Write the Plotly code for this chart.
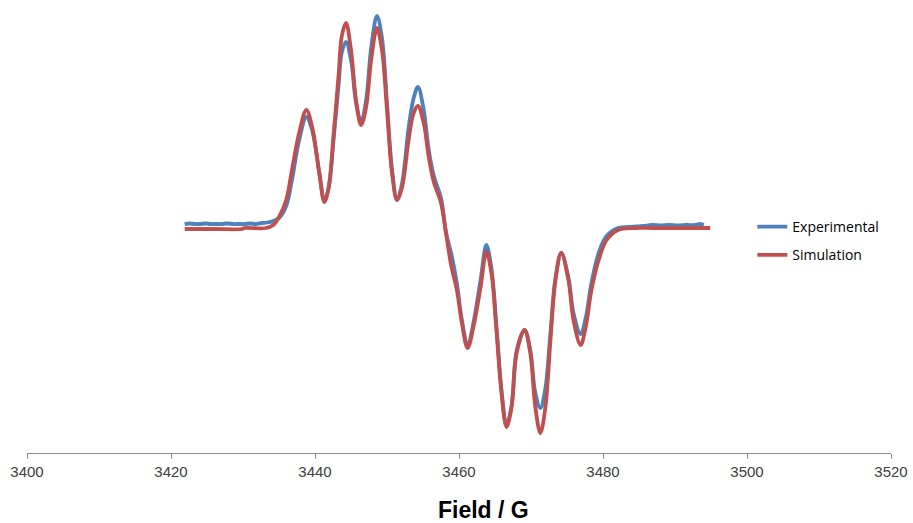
import plotly.graph_objects as go

# Experimental spectrum (Field in G, intensity in arbitrary units)
exp_field = [3421.9, 3422.6, 3423.3, 3424.0, 3424.8, 3425.5, 3426.3, 3427.0, 3427.8, 3428.6,
             3429.4, 3430.2, 3431.0, 3431.8, 3432.6, 3433.4, 3434.2, 3435.0, 3436.0, 3436.8,
             3437.8, 3438.8, 3439.6, 3440.6, 3441.3, 3441.9, 3442.6, 3443.3, 3443.7, 3444.3,
             3445.0, 3445.7, 3446.4, 3447.1, 3447.8, 3448.6, 3449.3, 3450.0, 3450.7, 3451.4,
             3452.1, 3453.0, 3453.7, 3454.3, 3455.1, 3455.8, 3456.5, 3457.5, 3458.2, 3458.9,
             3459.7, 3460.4, 3461.2, 3462.0, 3463.0, 3463.8, 3464.5, 3465.2, 3465.9, 3466.6,
             3467.3, 3468.0, 3469.1, 3469.9, 3470.6, 3471.3, 3472.0, 3472.7, 3473.4, 3474.2,
             3475.2, 3475.9, 3476.9, 3477.6, 3478.4, 3479.4, 3480.5, 3482.1, 3483.5, 3484.5,
             3485.6, 3486.8, 3488.0, 3489.2, 3490.4, 3491.6, 3492.8, 3493.4, 3494.0]
exp_signal = [4, 4.5, 4, 4, 4.5, 4, 4, 4, 4.5, 4,
              4, 4, 4.5, 4, 5, 5.5, 7, 10, 22, 48,
              88, 111, 98, 55, 27, 40, 90, 145, 175, 186,
              168, 125, 106, 128, 180, 212, 190, 125, 58, 28,
              45, 100, 130, 141, 118, 78, 52, 30, -5, -25,
              -55, -92, -118, -95, -52, -17, -40, -98, -162, -197,
              -178, -123, -102, -122, -165, -180, -160, -105, -50, -25,
              -50, -85, -106, -90, -55, -25, -8, 0, 1, 1.5,
              2, 3, 2.5, 3, 2.5, 3, 3, 4, 3]

# Simulated spectrum
sim_field = [3421.9, 3426.0, 3429.8, 3430.2, 3433.2, 3434.2, 3435.0, 3436.0, 3436.8, 3437.8,
             3438.8, 3439.6, 3440.6, 3441.3, 3441.9, 3442.6, 3443.3, 3443.7, 3444.3, 3445.0,
             3445.7, 3446.4, 3447.1, 3447.8, 3448.6, 3449.3, 3450.0, 3450.7, 3451.4, 3452.1,
             3453.0, 3453.7, 3454.3, 3455.1, 3455.8, 3456.5, 3457.5, 3458.2, 3458.9, 3459.7,
             3460.4, 3461.2, 3462.0, 3463.0, 3463.8, 3464.5, 3465.2, 3465.9, 3466.6, 3467.3,
             3468.0, 3469.1, 3469.9, 3470.6, 3471.3, 3472.0, 3472.7, 3473.4, 3474.2, 3475.2,
             3475.9, 3476.9, 3477.6, 3478.4, 3479.4, 3480.5, 3482.1, 3484.5, 3487.0, 3494.9]
sim_signal = [-1, -1, -1, 0, 0, 3, 11, 28, 58, 95,
              118, 101, 55, 26, 41, 95, 155, 191, 205, 178,
              128, 103, 121, 168, 200, 178, 118, 55, 28, 41,
              88, 115, 122, 105, 71, 46, 25, -5, -37, -62,
              -95, -120, -99, -59, -24, -45, -102, -165, -199, -179,
              -125, -102, -125, -179, -205, -179, -112, -52, -25, -52,
              -92, -117, -99, -62, -32, -12, -2, 0, 0, 0]

x_ticks = [3400, 3420, 3440, 3460, 3480, 3500, 3520]

fig = go.Figure()
fig.add_trace(go.Scatter(x=exp_field, y=exp_signal, mode="lines", name="Experimental",
                         legendgroup="a",
                         line=dict(color="#4F81BD", width=3.8, shape="spline", smoothing=1.0)))
fig.add_trace(go.Scatter(x=sim_field, y=sim_signal, mode="lines", name="Simulation",
                         legendgroup="b",
                         line=dict(color="#C0504D", width=3.8, shape="spline", smoothing=1.0)))

fig.update_layout(
    width=913, height=523,
    margin=dict(l=27.3, r=19.7, t=5, b=70),
    paper_bgcolor="white", plot_bgcolor="white",
    showlegend=True,
    legend=dict(x=0.8395, y=0.54, xanchor="left", yanchor="top",
                font=dict(family="Open Sans", size=14, color="#000"),
                tracegroupgap=7, bgcolor="rgba(0,0,0,0)"),
    xaxis=dict(range=[3400, 3520], tickvals=x_ticks, ticktext=[str(v) for v in x_ticks],
               showgrid=False, zeroline=False, showline=True, linecolor="#8C8C8C", linewidth=1,
               ticks="outside", ticklen=5, tickcolor="#8C8C8C",
               tickfont=dict(family="Liberation Sans", size=15, color="#404040")),
    yaxis=dict(range=[-225, 223], visible=False, showgrid=False, zeroline=False),
    annotations=[dict(text="<b>Field / G</b>", xref="paper", yref="paper",
                      x=0.5285, y=-0.128, xanchor="center", yanchor="middle", showarrow=False,
                      font=dict(family="Liberation Sans", size=23, color="#000"))],
)

fig.write_html("out.html", config={"displayModeBar": False},
               post_script="document.body.style.margin='0';document.body.style.overflow='hidden';")
